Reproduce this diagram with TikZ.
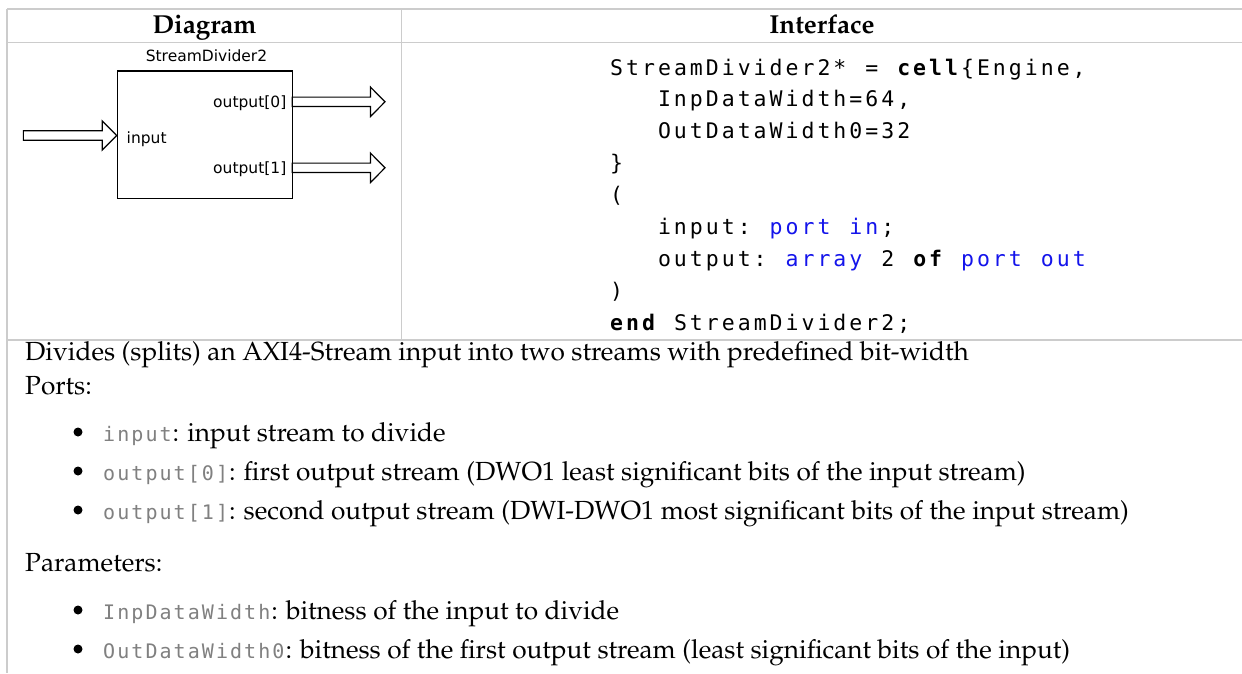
\documentclass[tikz,border=0pt]{standalone}
\usepackage{fontspec}
\newfontfamily\diagfont{DejaVu Sans}
\newfontfamily\codefont{DejaVu Sans Mono}
\newcommand\bodyfont{\fontencoding{OT1}\fontfamily{ppl}\selectfont}
\definecolor{rulegray}{RGB}{204,204,204}
\definecolor{kwblue}{RGB}{20,20,235}
\definecolor{inlinegray}{RGB}{128,128,128}
\newlength\colw
\setlength\colw{15.95pt}
% fixed-pitch character grid: every glyph centred in its own cell
\ExplSyntaxOn
\NewDocumentCommand\gridtext{m}{\tl_map_inline:nn{#1}{\makebox[\colw][c]{##1}}}
\ExplSyntaxOff
\newcommand\inlinecode[1]{{\color{inlinegray}\codefont\fontsize{20}{24}\selectfont\setlength\colw{14.1pt}\gridtext{#1}}}
\begin{document}
\begin{tikzpicture}[x=1pt,y=-1pt,
  rule/.style={draw=rulegray,line width=1.2pt},
  headtext/.style={anchor=base,inner sep=0pt,font=\bodyfont\bfseries\fontsize{26}{30}\selectfont},
  bodytext/.style={anchor=base west,inner sep=0pt,font=\bodyfont\fontsize{26.2}{30}\selectfont},
  codeseg/.style={anchor=base west,inner sep=0pt,font=\codefont\fontsize{21.5}{26}\selectfont},
  kw/.style={codeseg,text=kwblue},
  bold/.style={codeseg,font=\codefont\bfseries\fontsize{21.5}{26}\selectfont},
  portlabel/.style={inner sep=0pt,font=\diagfont\fontsize{15.5}{18}\selectfont},
  cellbox/.style={draw=black,line width=1.3pt,fill=white,minimum width=175pt,minimum height=127.3pt,inner sep=0pt},
  blockarrow/.style={draw=black,line width=1.2pt,fill=white,line join=miter},
  bullet/.style={fill=black}
]
\fill[white] (0,0) rectangle (1242,673);
\useasboundingbox (0,0) rectangle (1242,673);

% table rules
\draw[rule] (7,9) -- (1242,9);
\draw[rule] (7,42.3) -- (1242,42.3);
\draw[rule] (7,340) -- (1242,340);
\draw[rule] (7,9) -- (7,673);
\draw[rule] (401.7,9) -- (401.7,340);

% column headings
\node[headtext] (hdiag) at (204.5,33.3) {Diagram};
\node[headtext] (hiface) at (822,33.3) {Interface};

% cell symbol
\node[cellbox] (cell) at (204.8,134.65) {};
\node[portlabel,anchor=base] (cellname) at (206.5,61.5) {StreamDivider2};
\coordinate (pin) at (cell.west |- 0,135.5);
\coordinate (pout0) at (385,101.8);
\coordinate (pout1) at (385,167.8);
\newcommand\blockarrow[2]{%
  \draw[blockarrow] (#1) -- ++(-14.5,-14.7) -- ++(0,10) -- ++(-#2+14.5,0)
    -- ++(0,9.4) -- ++(#2-14.5,0) -- ++(0,10) -- cycle;}
\blockarrow{pin}{93.3}
\blockarrow{pout0}{92.7}
\blockarrow{pout1}{92.7}
\node[portlabel,anchor=base west] (lin) at (126.5,143) {input};
\node[portlabel,anchor=base east] (lout0) at (286.5,107.3) {output[0]};
\node[portlabel,anchor=base east] (lout1) at (286.5,173.3) {output[1]};

% interface listing: column c sits at 608.5+15.95c, line n at 75+31.9(n-1)
\node[codeseg] (c1a) at (608.5,75) {\gridtext{StreamDivider2*}};
\node[codeseg] (c1b) at (608.5+16*15.95,75) {\gridtext{=}};
\node[bold]    (c1c) at (608.5+18*15.95,75) {\gridtext{cell}};
\node[codeseg] (c1d) at (608.5+22*15.95,75) {\gridtext{\{Engine,}};
\node[codeseg] (c2a) at (608.5+3*15.95,106.9) {\gridtext{InpDataWidth=64,}};
\node[codeseg] (c3a) at (608.5+3*15.95,138.8) {\gridtext{OutDataWidth0=32}};
\node[codeseg] (c4a) at (608.5,170.7) {\gridtext{\}}};
\node[codeseg] (c5a) at (608.5,202.6) {\gridtext{(}};
\node[codeseg] (c6a) at (608.5+3*15.95,234.5) {\gridtext{input:}};
\node[kw]      (c6b) at (608.5+10*15.95,234.5) {\gridtext{port}};
\node[kw]      (c6c) at (608.5+15*15.95,234.5) {\gridtext{in}};
\node[codeseg] (c6d) at (608.5+17*15.95,234.5) {\gridtext{;}};
\node[codeseg] (c7a) at (608.5+3*15.95,266.4) {\gridtext{output:}};
\node[kw]      (c7b) at (608.5+11*15.95,266.4) {\gridtext{array}};
\node[codeseg] (c7c) at (608.5+17*15.95,266.4) {\gridtext{2}};
\node[bold]    (c7d) at (608.5+19*15.95,266.4) {\gridtext{of}};
\node[kw]      (c7e) at (608.5+22*15.95,266.4) {\gridtext{port}};
\node[kw]      (c7f) at (608.5+27*15.95,266.4) {\gridtext{out}};
\node[codeseg] (c8a) at (608.5,298.3) {\gridtext{)}};
\node[bold]    (c9a) at (608.5,330.2) {\gridtext{end}};
\node[codeseg] (c9b) at (608.5+4*15.95,330.2) {\gridtext{StreamDivider2;}};

% description
\node[bodytext] (desc) at (25,360) {Divides (splits) an AXI4-Stream input into two streams with predefined bit-width};
\node[bodytext] (ports) at (25,394) {Ports:};
\fill[bullet] (78,432) circle (4.5);
\node[bodytext] (p1) at (102,441) {\inlinecode{input}: input stream to divide};
\fill[bullet] (78,471) circle (4.5);
\node[bodytext] (p2) at (102,480) {\inlinecode{output[0]}: first output stream (DWO1 least significant bits of the input stream)};
\fill[bullet] (78,510) circle (4.5);
\node[bodytext] (p3) at (102,519) {\inlinecode{output[1]}: second output stream (DWI-DWO1 most significant bits of the input stream)};
\node[bodytext] (params) at (25,571) {Parameters:};
\fill[bullet] (78,610) circle (4.5);
\node[bodytext] (q1) at (102,619) {\inlinecode{InpDataWidth}: bitness of the input to divide};
\fill[bullet] (78,649) circle (4.5);
\node[bodytext] (q2) at (102,658) {\inlinecode{OutDataWidth0}: bitness of the first output stream (least significant bits of the input)};
\end{tikzpicture}
\end{document}
